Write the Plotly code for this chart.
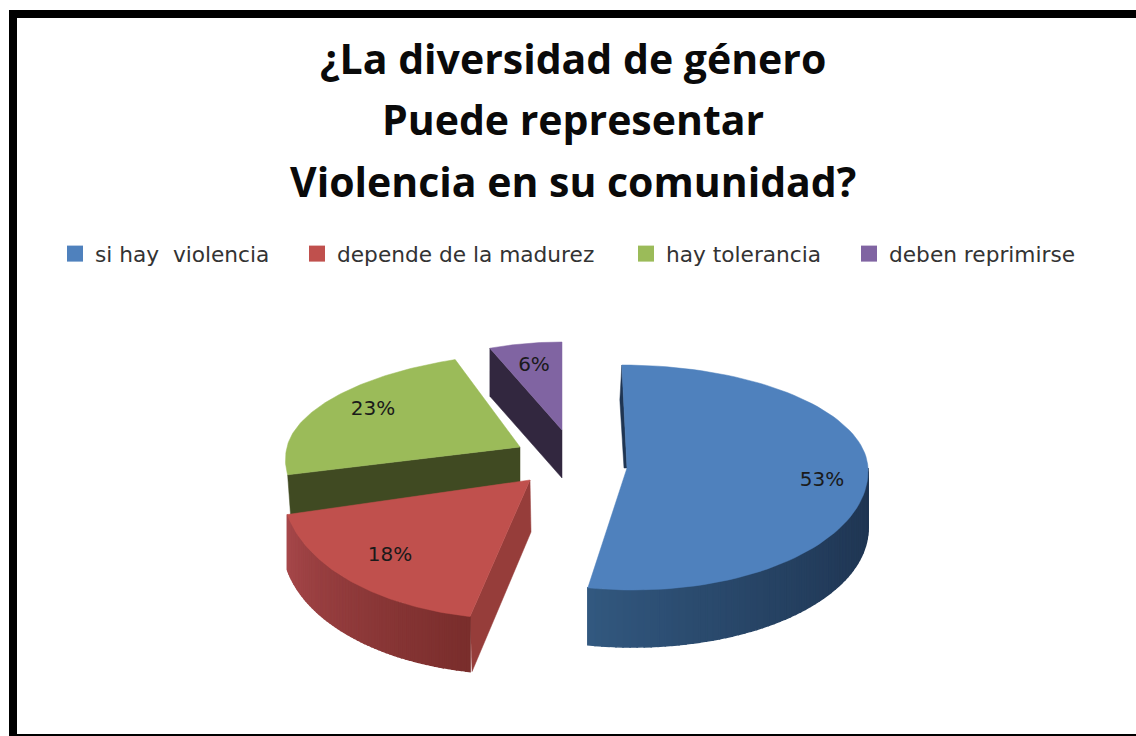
import numpy as np
import plotly.graph_objects as go

# ---- data ----
categories = ["si hay  violencia", "depende de la madurez", "hay tolerancia", "deben reprimirse"]
values = [53, 18, 23, 6]
labels_pct = ["53%", "18%", "23%", "6%"]
title_lines = ["¿La diversidad de género", "Puede representar", "Violencia en su comunidad?"]

# ---- style / placement (pixels, axes span the page) ----
top_colors = ["#4f81bd", "#c0504d", "#9bbb59", "#8064a2"]
apex = [(627, 468), (530, 480), (520, 447), (562, 430)]
rx = [241, 247, 233, 196]
ry_top = [103, 100, 94, 88]
ry_bot = [122, 139, 112, 100]
shear = [0.05, -0.10, -0.24, 0.0]
depth = [57, 55, 35, 48]
label_xy = [(822, 481), (390, 556), (373, 410), (534, 366)]
legend_px = [55, 297, 626, 849]
cut_colors = ["#1f3552", "#8f3d3a", "#404a22", "#32273f"]
rim_dark = ["#1f3552", "#7a2e2c", "#404a22", "#32273f"]
rim_light = ["#32587f", "#a6474a", "#5c7030", "#4a3a60"]


def point(i, th):
    s, c = np.sin(th), np.cos(th)
    ry = np.where(c >= 0, ry_top[i], ry_bot[i])
    dy = -ry * c
    return apex[i][0] + rx[i] * s + shear[i] * dy, apex[i][1] + dy


def hex_rgb(h):
    return np.array([int(h[k:k + 2], 16) for k in (1, 3, 5)], float)


fig = go.Figure()


def poly(xs, ys, color, lw=0.5):
    fig.add_trace(go.Scatter(x=list(xs) + [xs[0]], y=list(ys) + [ys[0]], mode="lines", fill="toself",
                             fillcolor=color, line=dict(color=color, width=lw),
                             showlegend=False, hoverinfo="skip"))


bounds = np.cumsum([0] + values) / sum(values) * 2 * np.pi
for i in [3, 2, 0, 1]:
    t0, t1 = bounds[i], bounds[i + 1]
    ax_, ay_ = apex[i]
    d = depth[i]
    # inner cut walls
    if i == 3:
        x0, y0 = point(i, np.array(t0))
        poly([x0, ax_, ax_, x0], [y0, ay_, ay_ + d, y0 + d], cut_colors[i])
    if i == 2:
        x0, y0 = point(i, np.array(t0))
        poly([x0, ax_, ax_, x0 + 3], [y0, ay_, ay_ + d + 3, y0 + d + 6], cut_colors[i])
    if i == 1:
        x0, y0 = point(i, np.array(t0))
        poly([x0, ax_, ax_ + 1, x0 + 2], [y0, ay_, ay_ + 52, y0 + d], "#963d3a")
    if i == 0:
        x1, y1 = point(i, np.array(0.0))
        poly([x1, ax_, ax_ - 3, x1 - 2], [y1, ay_, ay_, y1 + 35], cut_colors[i])
    # outer rim, split into bands for a gradient
    if i in (0, 1):
        lo = max(t0, np.pi / 2) if i == 0 else t0
        hi = t1
        edges = np.linspace(lo, hi, 61)
        for k in range(60):
            th = np.linspace(edges[k], edges[k + 1], 4)
            xs, ys = point(i, th)
            f = k / 59
            if i == 0:
                f = f ** 1.5
            col = hex_rgb(rim_dark[i]) * (1 - f) + hex_rgb(rim_light[i]) * f
            poly(list(xs) + list(xs[::-1]), list(ys) + list(ys[::-1] + d),
                 "rgb(%d,%d,%d)" % tuple(col), lw=1.5)
    # top face
    th = np.linspace(t0, t1, 90)
    xs, ys = point(i, th)
    poly([ax_] + list(xs), [ay_] + list(ys), top_colors[i])

# legend entries, one positioned legend each
legend_ids = ["legend", "legend2", "legend3", "legend4"]
legend_layout = {}
for name, col, lid, px in zip(categories, top_colors, legend_ids, legend_px):
    fig.add_trace(go.Scatter(x=[None], y=[None], mode="markers", name=name, legend=lid,
                             marker=dict(symbol="square", size=16, color=col)))
    legend_layout[lid] = dict(orientation="h", x=px / 1136, y=1 - 254 / 736, xanchor="left", yanchor="middle",
                              font=dict(family="DejaVu Sans", size=21.7, color="#333333"),
                              bgcolor="rgba(0,0,0,0)")

# percentage labels
fig.add_trace(go.Scatter(x=[p[0] for p in label_xy], y=[p[1] for p in label_xy], mode="text",
                         text=labels_pct, textposition="middle center",
                         textfont=dict(family="DejaVu Sans", size=20, color="#1a1a1a"),
                         showlegend=False, hoverinfo="skip"))

for line, y in zip(title_lines, [58, 119, 181]):
    fig.add_annotation(x=573, y=y, xref="x", yref="y", text=line, showarrow=False,
                       font=dict(family="Open Sans", size=41, color="#0a0a0a", weight="bold"))

# black frame on left, top and bottom
frame = dict(type="rect", xref="x", yref="y", fillcolor="#000000", line_width=0, layer="above")
fig.add_shape(x0=9, x1=17, y0=10, y1=736, **frame)
fig.add_shape(x0=9, x1=1136, y0=10, y1=18, **frame)
fig.add_shape(x0=9, x1=1136, y0=734, y1=736, **frame)

fig.update_layout(
    width=1136, height=736, margin=dict(l=0, r=0, t=0, b=0),
    paper_bgcolor="white", plot_bgcolor="white",
    xaxis=dict(range=[0, 1136], visible=False, fixedrange=True),
    yaxis=dict(range=[736, 0], visible=False, fixedrange=True),
    **legend_layout,
)
fig.write_html("out.html", config={"displayModeBar": False},
               post_script="document.body.style.margin='0';")
